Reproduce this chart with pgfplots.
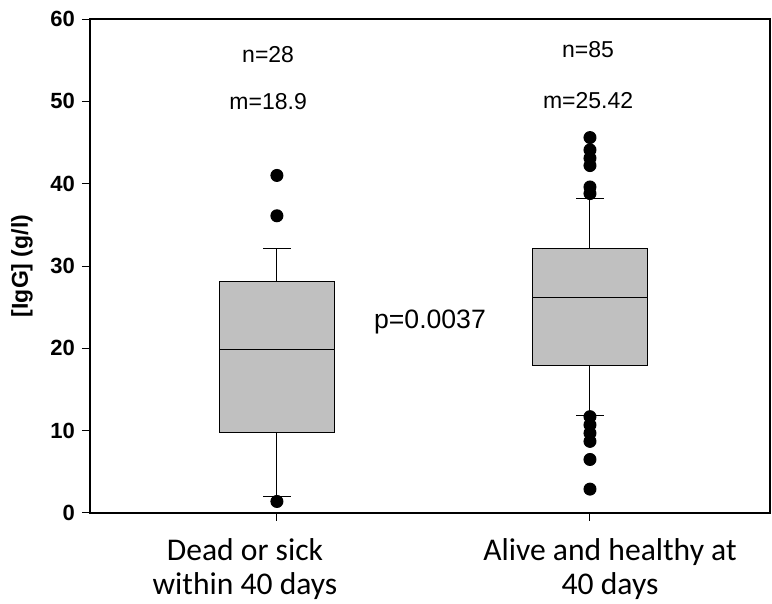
\documentclass[border=0pt]{standalone}
\usepackage{fontspec}
\setmainfont{Liberation Sans}
\newfontfamily\calibri{Carlito}
\usepackage{pgfplots}
\pgfplotsset{compat=1.18}
\usepgfplotslibrary{statistics}
\definecolor{boxgray}{RGB}{192,192,192}
\begin{document}
\begin{tikzpicture}
\useasboundingbox (-45pt,-45.5pt) rectangle (341pt,256.5pt);
\begin{axis}[
  scale only axis, width=340pt, height=247pt,
  xmin=0.403, xmax=2.575, ymin=0, ymax=60,
  boxplot/draw direction=y,
  ytick={0,10,...,60},
  xtick={1,2},
  xticklabels={},
  extra x ticks={0.898,2.064},
  extra x tick labels={{Dead or sick\\within 40 days},{Alive and healthy at\\40 days}},
  extra x tick style={major tick length=0pt, xticklabel style={align=center, font=\calibri\fontsize{15.8}{17}\selectfont, yshift=-9pt}},
  yticklabel style={font=\fontsize{11}{13}\selectfont\bfseries},
  /pgf/number format/assume math mode=true,
  tick align=outside, tick pos=left, major tick length=4pt,
  tick style={black, line width=0.5pt},
  axis line style={black, line width=0.6pt},
  every axis y label/.style={at={(axis description cs:0,0.5)}, xshift=-34pt, rotate=90, anchor=center, font=\fontsize{11.5}{13}\selectfont\bfseries},
  ylabel={[IgG] (g/l)},
  clip=false,
]
\addplot[boxplot prepared={draw position=1, median=19.9, upper quartile=28.1, lower quartile=9.8, upper whisker=32.1, lower whisker=2.0, box extend=0.367, whisker extend=0.088},
  draw=black, line width=0.5pt, fill=boxgray, mark=*, mark size=3pt, mark options={fill=black, draw=black}]
  table[row sep=\\, y index=0] {data\\41.0\\36.1\\1.4\\};
\addplot[boxplot prepared={draw position=2, median=26.2, upper quartile=32.1, lower quartile=17.9, upper whisker=38.2, lower whisker=11.9, box extend=0.367, whisker extend=0.088},
  draw=black, line width=0.5pt, fill=boxgray, mark=*, mark size=3pt, mark options={fill=black, draw=black}]
  table[row sep=\\, y index=0] {data\\45.6\\44.1\\43.1\\42.2\\39.6\\38.8\\11.7\\10.7\\9.7\\8.7\\6.5\\2.9\\};
\node[font=\fontsize{11.5}{13}\selectfont] at (axis cs:0.972,55.65) {n=28};
\node[font=\fontsize{11.5}{13}\selectfont] at (axis cs:0.972,49.94) {m=18.9};
\node[font=\fontsize{11.5}{13}\selectfont] at (axis cs:1.994,56.26) {n=85};
\node[font=\fontsize{11.5}{13}\selectfont] at (axis cs:1.994,50.06) {m=25.42};
\node[font=\fontsize{13.3}{15}\selectfont] at (axis cs:1.489,23.2) {p=0.0037};
\end{axis}
\end{tikzpicture}
\end{document}
